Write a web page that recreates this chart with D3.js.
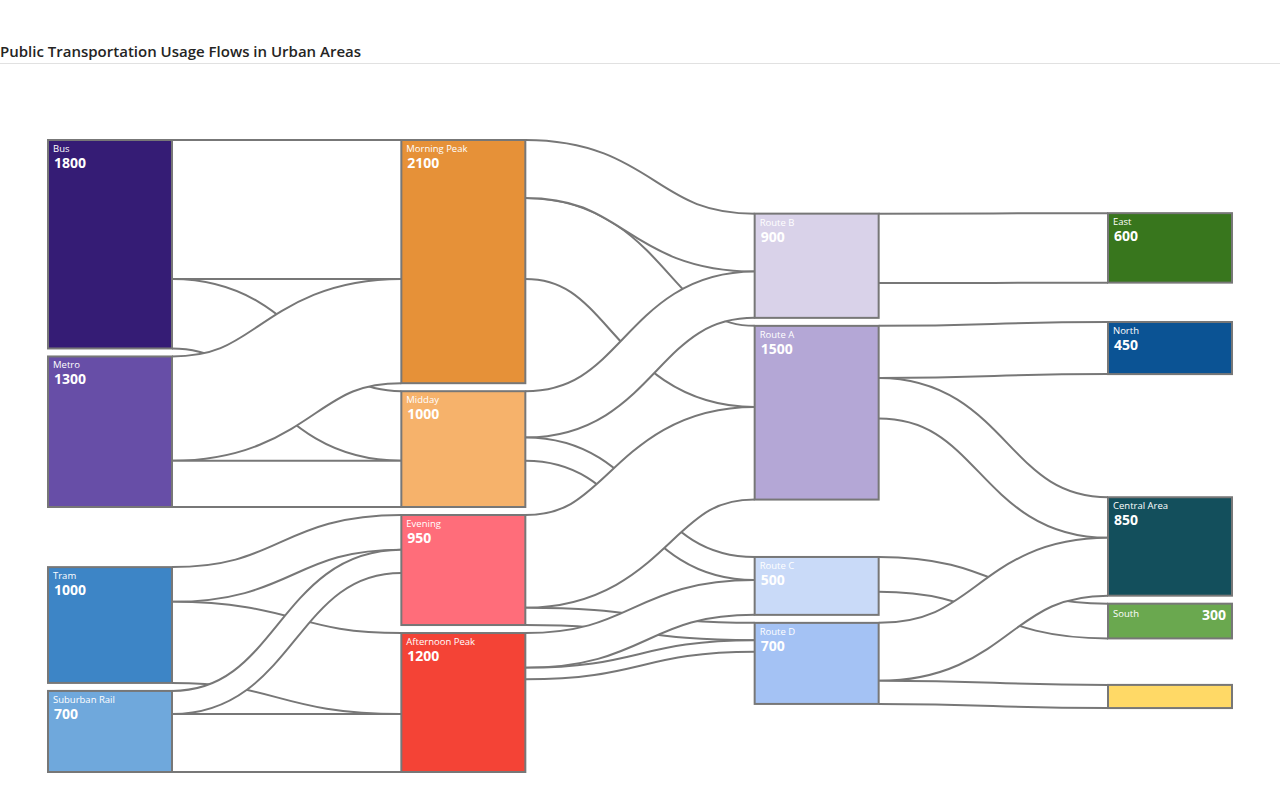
<!DOCTYPE html>
<html><head><meta charset="utf-8">
<script src="https://cdn.jsdelivr.net/npm/d3@7"></script>
<style>body{margin:0;background:#fff;} svg{display:block;font-family:"Open Sans","Noto Sans",sans-serif;}</style>
</head><body><svg id="chart" width="1280" height="804"></svg>
<script>
// ---------- data ----------
const title = "Public Transportation Usage Flows in Urban Areas";
const nodeNames = ["Bus","Metro","Tram","Suburban Rail","Morning Peak","Midday","Evening","Afternoon Peak","Route B","Route A","Route C","Route D","East","North","Central Area","South","West"];
const nodeColors = ["#351c75","#674ea7","#3d85c6","#6fa8dc","#e69138","#f6b26b","#ff6d7a","#f44336","#d9d2e9","#b4a7d6","#c9daf8","#a4c2f4","#38761d","#0b5394","#134f5c","#6aa84f","#ffd966"];
const linkSources = ["Bus","Bus","Metro","Metro","Tram","Tram","Suburban Rail","Suburban Rail","Morning Peak","Morning Peak","Midday","Midday","Evening","Evening","Afternoon Peak","Afternoon Peak","Route A","Route A","Route B","Route C","Route D","Route D"];
const linkTargets = ["Morning Peak","Midday","Morning Peak","Midday","Evening","Afternoon Peak","Evening","Afternoon Peak","Route A","Route B","Route B","Route C","Route A","Route D","Route C","Route D","Central Area","North","East","South","Central Area","West"];
const linkValues = [1200,600,900,400,300,700,200,500,700,500,400,200,800,150,300,100,350,450,600,300,500,200];

// ---------- sankey layout (port of d3-sankey) ----------
function sankeyLayout(graph, ext, dx, dy, iterations) {
  const [[x0,y0],[x1,y1]] = ext;
  let py;
  const {nodes, links} = graph;
  nodes.forEach((n,i)=>{n.index=i;n.sourceLinks=[];n.targetLinks=[];});
  const byId = new Map(nodes.map(n=>[n.name,n]));
  links.forEach((l,i)=>{l.index=i;l.source=byId.get(l.source);l.target=byId.get(l.target);l.source.sourceLinks.push(l);l.target.targetLinks.push(l);});
  nodes.forEach(n=>{n.value=Math.max(d3.sum(n.sourceLinks,l=>l.value),d3.sum(n.targetLinks,l=>l.value));});
  let cur=new Set(nodes),next=new Set,x=0;
  while(cur.size){for(const n of cur){n.depth=x;for(const {target} of n.sourceLinks)next.add(target);} x++;cur=next;next=new Set;}
  cur=new Set(nodes);next=new Set;x=0;
  while(cur.size){for(const n of cur){n.height=x;for(const {source} of n.targetLinks)next.add(source);} x++;cur=next;next=new Set;}
  const nCols=d3.max(nodes,d=>d.depth)+1;
  const kx=(x1-x0-dx)/(nCols-1);
  const columns=Array.from({length:nCols},()=>[]);
  for(const n of nodes){const i=Math.max(0,Math.min(nCols-1,n.sourceLinks.length?n.depth:nCols-1));n.layer=i;n.x0=x0+i*kx;n.x1=n.x0+dx;columns[i].push(n);}
  py=Math.min(dy,(y1-y0)/(d3.max(columns,c=>c.length)-1));
  const aB=(a,b)=>a.y0-b.y0;
  const aSB=(a,b)=>aB(a.source,b.source)||a.index-b.index;
  const aTB=(a,b)=>aB(a.target,b.target)||a.index-b.index;
  function reorderLinks(ns){for(const {sourceLinks,targetLinks} of ns){sourceLinks.sort(aTB);targetLinks.sort(aSB);}}
  function reorderNodeLinks({sourceLinks,targetLinks}){
    for(const {source:{sourceLinks:s}} of targetLinks) s.sort(aTB);
    for(const {target:{targetLinks:t}} of sourceLinks) t.sort(aSB);
  }
  const ky=d3.min(columns,c=>(y1-y0-(c.length-1)*py)/d3.sum(c,d=>d.value));
  for(const ns of columns){
    let y=y0;
    for(const n of ns){n.y0=y;n.y1=y+n.value*ky;y=n.y1+py;for(const l of n.sourceLinks)l.width=l.value*ky;}
    y=(y1-y+py)/(ns.length+1);
    ns.forEach((n,i)=>{n.y0+=y*(i+1);n.y1+=y*(i+1);});
    reorderLinks(ns);
  }
  function targetTop(source,target){
    let y=source.y0-(source.sourceLinks.length-1)*py/2;
    for(const {target:n,width} of source.sourceLinks){if(n===target)break;y+=width+py;}
    for(const {source:n,width} of target.targetLinks){if(n===source)break;y-=width;}
    return y;
  }
  function sourceTop(source,target){
    let y=target.y0-(target.targetLinks.length-1)*py/2;
    for(const {source:n,width} of target.targetLinks){if(n===source)break;y+=width+py;}
    for(const {target:n,width} of source.sourceLinks){if(n===target)break;y-=width;}
    return y;
  }
  function tb(ns,y,i,a){for(;i<ns.length;++i){const n=ns[i];const d=(y-n.y0)*a;if(d>1e-6){n.y0+=d;n.y1+=d;}y=n.y1+py;}}
  function bt(ns,y,i,a){for(;i>=0;--i){const n=ns[i];const d=(n.y1-y)*a;if(d>1e-6){n.y0-=d;n.y1-=d;}y=n.y0-py;}}
  function resolve(ns,a){const i=ns.length>>1;const s=ns[i];bt(ns,s.y0-py,i-1,a);tb(ns,s.y1+py,i+1,a);bt(ns,y1,ns.length-1,a);tb(ns,y0,0,a);}
  function relaxLR(a,b){
    for(let i=1;i<columns.length;++i){const col=columns[i];
      for(const t of col){let y=0,w=0;for(const {source,value} of t.targetLinks){const v=value*(t.layer-source.layer);y+=targetTop(source,t)*v;w+=v;}
        if(!(w>0))continue;const d=(y/w-t.y0)*a;t.y0+=d;t.y1+=d;reorderNodeLinks(t);}
      col.sort(aB);resolve(col,b);}
  }
  function relaxRL(a,b){
    for(let i=columns.length-2;i>=0;--i){const col=columns[i];
      for(const s of col){let y=0,w=0;for(const {target,value} of s.sourceLinks){const v=value*(target.layer-s.layer);y+=sourceTop(s,target)*v;w+=v;}
        if(!(w>0))continue;const d=(y/w-s.y0)*a;s.y0+=d;s.y1+=d;reorderNodeLinks(s);}
      col.sort(aB);resolve(col,b);}
  }
  for(let i=0;i<iterations;++i){const a=Math.pow(0.99,i);const b=Math.max(1-a,(i+1)/iterations);relaxRL(a,b);relaxLR(a,b);}
  for(const n of nodes){let ya=n.y0,yb=n.y0;for(const l of n.sourceLinks){l.y0=ya+l.width/2;ya+=l.width;}for(const l of n.targetLinks){l.y1=yb+l.width/2;yb+=l.width;}}
  return graph;
}

const graph = sankeyLayout({
  nodes: nodeNames.map((name,i)=>({name,color:nodeColors[i]})),
  links: linkSources.map((s,i)=>({source:s,target:linkTargets[i],value:linkValues[i]}))
}, [[48,140],[1232,772]], 124, 8, 6);

// ---------- drawing ----------
const svg = d3.select("#chart");
svg.append("text").attr("x",0).attr("y",57).attr("font-size",15).attr("font-weight",600)
  .attr("fill","#252423").text(title);
svg.append("line").attr("x1",0).attr("x2",1280).attr("y1",63.5).attr("y2",63.5).attr("stroke","#e1e1e1").attr("stroke-width",1);

const linkGen = d3.linkHorizontal().source(d=>[d.source.x1,d.y0]).target(d=>[d.target.x0,d.y1]);
const lg = svg.append("g").attr("fill","none");
const linkG = lg.selectAll("g").data(graph.links).join("g");
linkG.append("path").attr("d",linkGen).attr("stroke","#777").attr("stroke-width",d=>d.width+2);
linkG.append("path").attr("d",linkGen).attr("stroke","#fff").attr("stroke-width",d=>Math.max(0.5,d.width-2));

const ng = svg.append("g").selectAll("g").data(graph.nodes).join("g");
ng.append("rect").attr("x",d=>d.x0).attr("y",d=>d.y0).attr("width",d=>d.x1-d.x0).attr("height",d=>d.y1-d.y0)
  .attr("fill",d=>d.color).attr("stroke","#777").attr("stroke-width",2);

const big = ng.filter(d=>d.y1-d.y0>=45);
big.append("text").attr("x",d=>d.x0+5).attr("y",d=>d.y0+12).attr("font-size",9.5).attr("fill","#fff").text(d=>d.name);
big.append("text").attr("x",d=>d.x0+6).attr("y",d=>d.y0+28).attr("font-size",14).attr("font-weight",700).attr("fill","#fff").text(d=>d.value);
const mid = ng.filter(d=>d.y1-d.y0>=25 && d.y1-d.y0<45);
mid.append("text").attr("x",d=>d.x0+5).attr("y",d=>d.y0+13).attr("font-size",9.5).attr("fill","#fff").text(d=>d.name);
mid.append("text").attr("x",d=>d.x1-6).attr("y",d=>d.y0+16).attr("text-anchor","end").attr("font-size",14).attr("font-weight",700).attr("fill","#fff").text(d=>d.value);
</script></body></html>
